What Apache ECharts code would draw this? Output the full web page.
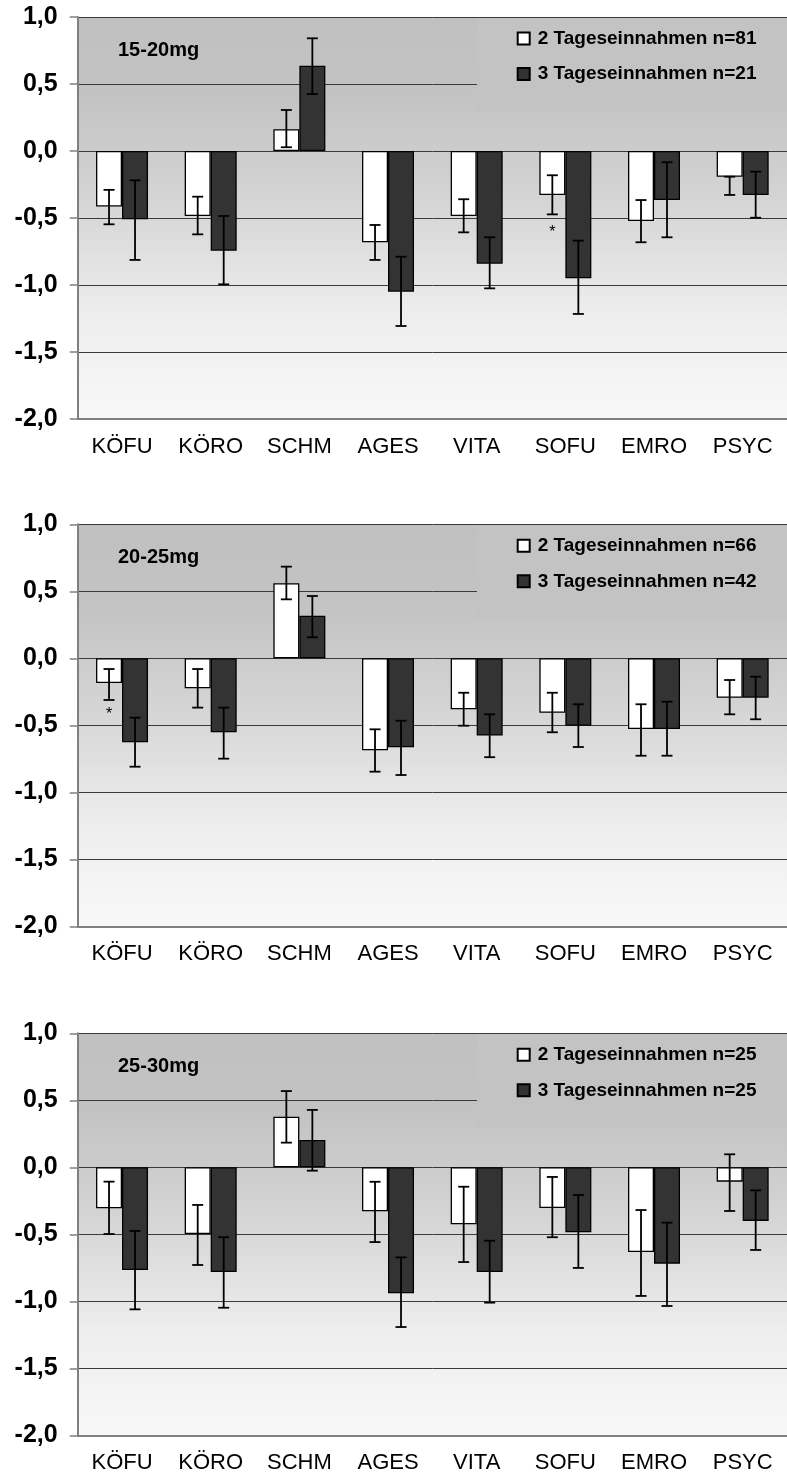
<!DOCTYPE html>
<html>
<head>
<meta charset="utf-8">
<script src="https://cdn.jsdelivr.net/npm/echarts@6/dist/echarts.min.js"></script>
<style>
html,body{margin:0;padding:0;background:#fff;}
#chart{width:787px;height:1477px;}
</style>
</head>
<body>
<div id="chart"></div>
<script>
// ---------- DATA ----------
const categories = ['KÖFU', 'KÖRO', 'SCHM', 'AGES', 'VITA', 'SOFU', 'EMRO', 'PSYC'];
const panelTitles = ['15-20mg', '20-25mg', '25-30mg'];
const seriesNamesTwo = ['2 Tageseinnahmen n=81', '2 Tageseinnahmen n=66', '2 Tageseinnahmen n=25'];
const seriesNamesThree = ['3 Tageseinnahmen n=21', '3 Tageseinnahmen n=42', '3 Tageseinnahmen n=25'];
const yTicks = [-2.0, -1.5, -1.0, -0.5, 0.0, 0.5, 1.0];

// panel 1: 15-20mg
const p1Two      = [-0.415, -0.485, 0.162, -0.681, -0.485, -0.328, -0.522, -0.192];
const p1TwoLow   = [-0.547, -0.622, 0.028, -0.813, -0.607, -0.473, -0.681, -0.328];
const p1TwoHigh  = [-0.290, -0.341, 0.306, -0.552, -0.360, -0.181, -0.366, -0.192];
const p1Three     = [-0.510, -0.744, 0.637, -1.050, -0.841, -0.950, -0.366, -0.328];
const p1ThreeLow  = [-0.813, -0.995, 0.425, -1.306, -1.025, -1.216, -0.644, -0.498];
const p1ThreeHigh = [-0.219, -0.485, 0.841, -0.789, -0.644, -0.669, -0.084, -0.154];

// panel 2: 20-25mg
const p2Two      = [-0.184, -0.224, 0.560, -0.687, -0.381, -0.406, -0.528, -0.294];
const p2TwoLow   = [-0.311, -0.368, 0.440, -0.846, -0.503, -0.552, -0.727, -0.418];
const p2TwoHigh  = [-0.080, -0.080, 0.684, -0.530, -0.257, -0.257, -0.343, -0.162];
const p2Three     = [-0.627, -0.552, 0.318, -0.664, -0.577, -0.503, -0.528, -0.294];
const p2ThreeLow  = [-0.809, -0.749, 0.157, -0.871, -0.738, -0.662, -0.727, -0.455];
const p2ThreeHigh = [-0.443, -0.368, 0.465, -0.466, -0.418, -0.343, -0.324, -0.137];

// panel 3: 25-30mg
const p3Two      = [-0.306, -0.498, 0.378, -0.328, -0.425, -0.304, -0.632, -0.107];
const p3TwoLow   = [-0.498, -0.729, 0.184, -0.558, -0.707, -0.522, -0.960, -0.326];
const p3TwoHigh  = [-0.107, -0.281, 0.569, -0.108, -0.145, -0.072, -0.319, 0.097];
const p3Three     = [-0.766, -0.781, 0.204, -0.940, -0.781, -0.485, -0.719, -0.400];
const p3ThreeLow  = [-1.060, -1.048, -0.025, -1.192, -1.010, -0.751, -1.035, -0.617];
const p3ThreeHigh = [-0.475, -0.522, 0.428, -0.672, -0.548, -0.207, -0.413, -0.172];

// significance marks: [categoryIndex, value] (on the "2 Tageseinnahmen" bar)
const p1Stars = [[5, -0.61]];
const p2Stars = [[0, -0.418]];
const p3Stars = [];

// ---------- LAYOUT ----------
const panels = [
  {two: p1Two, twoLow: p1TwoLow, twoHigh: p1TwoHigh, three: p1Three, threeLow: p1ThreeLow, threeHigh: p1ThreeHigh, stars: p1Stars},
  {two: p2Two, twoLow: p2TwoLow, twoHigh: p2TwoHigh, three: p2Three, threeLow: p2ThreeLow, threeHigh: p2ThreeHigh, stars: p2Stars},
  {two: p3Two, twoLow: p3TwoLow, twoHigh: p3TwoHigh, three: p3Three, threeLow: p3ThreeLow, threeHigh: p3ThreeHigh, stars: p3Stars}
];
const gridTops = [17, 524.3, 1033.3];
const gridH = 402;
const gridLeft = 77.7;
const gridW = 718.4;
const BAR_W = 26;
const FONT = '"Liberation Sans", Arial, sans-serif';

const grids = [], xAxes = [], yAxes = [], series = [], titles = [], legends = [];

function errRender(offset) {
  return function (params, api) {
    const c = api.value(0);
    const lo = api.coord([c, api.value(1)]);
    const hi = api.coord([c, api.value(2)]);
    const x = lo[0] + offset;
    const cap = 5.5;
    const st = {stroke: '#000', lineWidth: 1.8};
    return {
      type: 'group',
      children: [
        {type: 'line', shape: {x1: x, y1: lo[1], x2: x, y2: hi[1]}, style: st},
        {type: 'line', shape: {x1: x - cap, y1: lo[1], x2: x + cap, y2: lo[1]}, style: st},
        {type: 'line', shape: {x1: x - cap, y1: hi[1], x2: x + cap, y2: hi[1]}, style: st}
      ]
    };
  };
}

function starRender(params, api) {
  const p = api.coord([api.value(0), api.value(1)]);
  return {
    type: 'text',
    x: p[0] - BAR_W / 2,
    y: p[1],
    style: {text: '*', fill: '#000', font: '16px ' + FONT, align: 'center', verticalAlign: 'middle'}
  };
}

panels.forEach((pn, i) => {
  grids.push({
    left: gridLeft, top: gridTops[i], width: gridW, height: gridH,
    show: true, borderWidth: 0,
    backgroundColor: {
      type: 'linear', x: 0, y: 0, x2: 0, y2: 1,
      colorStops: [
        {offset: 0, color: '#c0c0c0'},
        {offset: 0.2, color: '#c3c3c3'},
        {offset: 0.45, color: '#d4d4d4'},
        {offset: 0.75, color: '#eeeeee'},
        {offset: 1, color: '#f8f8f8'}
      ]
    }
  });
  xAxes.push({
    type: 'category', gridIndex: i, data: categories,
    axisLine: {onZero: false, lineStyle: {color: '#808080', width: 2}},
    axisTick: {show: false},
    axisLabel: {color: '#000', fontSize: 22, fontFamily: FONT, margin: 17, interval: 0},
    splitLine: {show: false}
  });
  yAxes.push({
    type: 'value', gridIndex: i, min: yTicks[0], max: yTicks[yTicks.length - 1], interval: 0.5,
    axisLine: {show: true, lineStyle: {color: '#808080', width: 2}},
    axisTick: {show: true, length: 8, lineStyle: {color: '#808080', width: 1.5}},
    axisLabel: {
      color: '#000', fontSize: 25, fontWeight: 'bold', fontFamily: FONT, margin: 20,
      formatter: v => v.toFixed(1).replace('.', ',')
    },
    splitLine: {show: true, lineStyle: {color: '#3a3a3a', width: 1}}
  });
  const barBase = {
    type: 'bar', xAxisIndex: i, yAxisIndex: i, barWidth: BAR_W, barGap: '0%',
    animation: false, z: 2
  };
  series.push(Object.assign({}, barBase, {
    name: seriesNamesTwo[i], data: pn.two,
    itemStyle: {color: '#ffffff', borderColor: '#000', borderWidth: 1.3}
  }));
  series.push(Object.assign({}, barBase, {
    name: seriesNamesThree[i], data: pn.three,
    itemStyle: {color: '#333333', borderColor: '#000', borderWidth: 1.3}
  }));
  series.push({
    type: 'custom', xAxisIndex: i, yAxisIndex: i, z: 5, animation: false, silent: true,
    renderItem: errRender(-BAR_W / 2),
    data: categories.map((c, k) => [k, pn.twoLow[k], pn.twoHigh[k]])
  });
  series.push({
    type: 'custom', xAxisIndex: i, yAxisIndex: i, z: 5, animation: false, silent: true,
    renderItem: errRender(BAR_W / 2),
    data: categories.map((c, k) => [k, pn.threeLow[k], pn.threeHigh[k]])
  });
  if (pn.stars.length) {
    series.push({
      type: 'custom', xAxisIndex: i, yAxisIndex: i, z: 5, animation: false, silent: true,
      renderItem: starRender, data: pn.stars
    });
  }
  titles.push({
    text: panelTitles[i], left: 118, top: gridTops[i] + 23, padding: 0,
    textStyle: {fontSize: 20, fontWeight: 'bold', color: '#000', fontFamily: FONT}
  });
  legends.push({
    data: [seriesNamesTwo[i], seriesNamesThree[i]],
    orient: 'vertical', left: 477, top: gridTops[i] + 1,
    padding: [11, 40, 28, 39.7],
    itemGap: 16.5, itemWidth: 12, itemHeight: 12, icon: 'rect',
    backgroundColor: '#c3c3c3',
    selectedMode: false,
    textStyle: {fontSize: 19, fontWeight: 'bold', color: '#000', fontFamily: FONT, padding: [0, 0, 0, 3]}
  });
});

const chart = echarts.init(document.getElementById('chart'), null, {renderer: 'canvas'});
chart.setOption({
  animation: false,
  backgroundColor: '#ffffff',
  title: titles,
  legend: legends,
  grid: grids,
  xAxis: xAxes,
  yAxis: yAxes,
  series: series
});
</script>
</body>
</html>
